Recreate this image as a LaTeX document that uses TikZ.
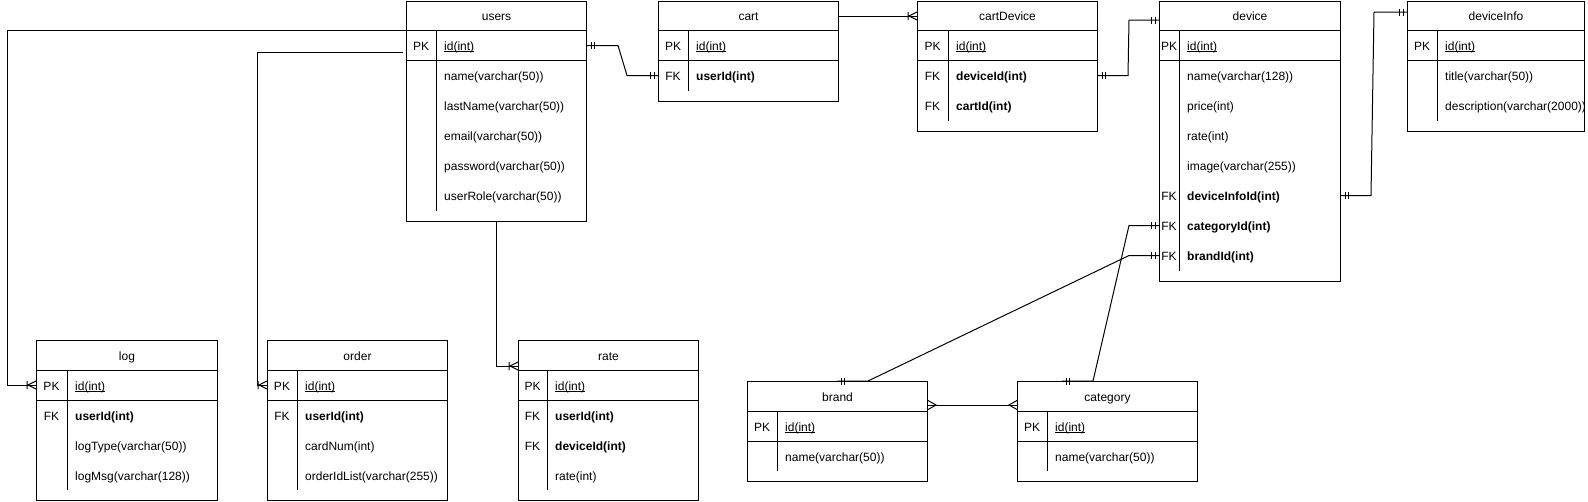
\documentclass[tikz,border=0pt]{standalone}
\usepackage{fontspec}
\setmainfont{Liberation Sans}
\usetikzlibrary{calc,decorations.markings}
\newcommand\myul[1]{\setbox0\hbox{#1}\rlap{\rule[-1.6pt]{\wd0}{0.9pt}}\box0}
\tikzset{
  x=1pt, y=-1pt,
  tbl/.style={draw, line width=1pt, rectangle, inner sep=0pt, fill=white},
  tline/.style={line width=1pt},
  ttl/.style={inner sep=0pt, anchor=base, font=\fontsize{12}{14}\selectfont},
  keyt/.style={inner sep=0pt, anchor=base, font=\fontsize{12}{14}\selectfont},
  fldt/.style={inner sep=0pt, anchor=base west, font=\fontsize{12}{14}\selectfont},
  conn/.style={draw, line width=1pt},
  mk/.style={line width=1pt},
  one end/.style={postaction={decorate,decoration={markings,mark=at position 1 with {\draw[mk] (-4,-3.5)--(-4,3.5) (-7.5,-3.5)--(-7.5,3.5);}}}},
  one start/.style={postaction={decorate,decoration={markings,mark=at position 0 with {\draw[mk] (4,-3.5)--(4,3.5) (7.5,-3.5)--(7.5,3.5);}}}},
  crow end/.style={postaction={decorate,decoration={markings,mark=at position 1 with {\draw[mk] (0,4)--(-8,0)--(0,-4) (-9,-4)--(-9,4);}}}},
  many end/.style={postaction={decorate,decoration={markings,mark=at position 1 with {\draw[mk] (0,4.5)--(-8,0)--(0,-4.5);}}}},
  many start/.style={postaction={decorate,decoration={markings,mark=at position 0 with {\draw[mk] (0,4.5)--(8,0)--(0,-4.5);}}}},
}
% id, x, y, width, nrows, keyw, title
\newcommand\ertable[7]{%
  \pgfmathsetmacro\tH{40+30*#5}%
  \pgfmathsetmacro\tD{30+30*#5}%
  \node[tbl, minimum width=#4pt, minimum height=\tH pt, anchor=north west] (#1) at (#2,#3) {};
  \node[ttl] (#1-t) at ($(#1.north)+(0,20)$) {#7};
  \draw[tline] ($(#1.north west)+(0,30)$) -- ($(#1.north east)+(0,30)$);
  \draw[tline] ($(#1.north west)+(0,60)$) -- ($(#1.north east)+(0,60)$);
  \draw[tline] ($(#1.north west)+(#6,30)$) -- ($(#1.north west)+(#6,\tD)$);
  \expandafter\xdef\csname tk#1\endcsname{#6}%
}
% id, n, key, text
\newcommand\errow[4]{%
  \pgfmathsetmacro\rY{15+30*#2}%
  \pgfmathsetmacro\rB{20+30*#2}%
  \edef\kw{\csname tk#1\endcsname}%
  \coordinate (#1-y#2) at ($(#1.north west)+(0,\rY)$);
  \node[keyt] (#1-k#2) at ($(#1.north west)+(\kw/2,\rB)$) {#3};
  \node[fldt] (#1-r#2) at ($(#1.north west)+(\kw+8,\rB)$) {#4};
}
\begin{document}
\begin{tikzpicture}
\fill[white] (0,0) rectangle (1588,501);
\useasboundingbox (0,0) rectangle (1588,501);

\ertable{users}{406}{0.5}{180}{6}{30}{users}
\errow{users}{1}{PK}{\myul{id(int)}}
\errow{users}{2}{}{name(varchar(50))}
\errow{users}{3}{}{lastName(varchar(50))}
\errow{users}{4}{}{email(varchar(50))}
\errow{users}{5}{}{password(varchar(50))}
\errow{users}{6}{}{userRole(varchar(50))}

\ertable{cart}{658}{0.5}{180}{2}{30}{cart}
\errow{cart}{1}{PK}{\myul{id(int)}}
\errow{cart}{2}{FK}{\textbf{userId(int)}}

\ertable{cartDevice}{917}{0.5}{180}{3}{31}{cartDevice}
\errow{cartDevice}{1}{PK}{\myul{id(int)}}
\errow{cartDevice}{2}{FK}{\textbf{deviceId(int)}}
\errow{cartDevice}{3}{FK}{\textbf{cartId(int)}}

\ertable{device}{1159}{0.5}{181}{8}{20}{device}
\errow{device}{1}{PK}{\myul{id(int)}}
\errow{device}{2}{}{name(varchar(128))}
\errow{device}{3}{}{price(int)}
\errow{device}{4}{}{rate(int)}
\errow{device}{5}{}{image(varchar(255))}
\errow{device}{6}{FK}{\textbf{deviceInfoId(int)}}
\errow{device}{7}{FK}{\textbf{categoryId(int)}}
\errow{device}{8}{FK}{\textbf{brandId(int)}}

\ertable{deviceInfo}{1407}{0.5}{177}{3}{30}{deviceInfo}
\errow{deviceInfo}{1}{PK}{\myul{id(int)}}
\errow{deviceInfo}{2}{}{title(varchar(50))}
\errow{deviceInfo}{3}{}{description(varchar(2000))}

\ertable{log}{36}{340}{181}{4}{31}{log}
\errow{log}{1}{PK}{\myul{id(int)}}
\errow{log}{2}{FK}{\textbf{userId(int)}}
\errow{log}{3}{}{logType(varchar(50))}
\errow{log}{4}{}{logMsg(varchar(128))}

\ertable{order}{267}{340}{180}{4}{30}{order}
\errow{order}{1}{PK}{\myul{id(int)}}
\errow{order}{2}{FK}{\textbf{userId(int)}}
\errow{order}{3}{}{cardNum(int)}
\errow{order}{4}{}{orderIdList(varchar(255))}

\ertable{rate}{518}{340}{180}{4}{29}{rate}
\errow{rate}{1}{PK}{\myul{id(int)}}
\errow{rate}{2}{FK}{\textbf{userId(int)}}
\errow{rate}{3}{FK}{\textbf{deviceId(int)}}
\errow{rate}{4}{}{rate(int)}

\ertable{brand}{747}{381}{180}{2}{30}{brand}
\errow{brand}{1}{PK}{\myul{id(int)}}
\errow{brand}{2}{}{name(varchar(50))}

\ertable{category}{1017}{381}{180}{2}{30}{category}
\errow{category}{1}{PK}{\myul{id(int)}}
\errow{category}{2}{}{name(varchar(50))}

% connectors
\draw[conn,one start,one end] (users.east |- users-y1) -- ++(31,0) -- ($(cart.west |- cart-y2)+(-31,0)$) -- (cart.west |- cart-y2);
\draw[conn,crow end] ($(cart.north east)+(0,15.5)$) -- ($(cartDevice.north west)+(0,15.5)$);
\draw[conn,one start,one end] (cartDevice.east |- cartDevice-y2) -- ++(30,0) -- ($(device.north west)+(-30,19.5)$) -- ($(device.north west)+(0,19.5)$);
\draw[conn,one start,one end] (device.east |- device-y6) -- ++(30,0) -- ($(deviceInfo.north west)+(-33,11.5)$) -- ($(deviceInfo.north west)+(0,11.5)$);
\draw[conn,one start,one end] (device.west |- device-y7) -- ++(-30,0) -- ($(category.north west)+(76,0)$) -- ($(category.north west)+(45,0)$);
\draw[conn,one start,one end] (device.west |- device-y8) -- ++(-30,0) -- ($(brand.north west)+(121,0)$) -- ($(brand.north west)+(90,0)$);
\draw[conn,many start,many end] ($(brand.north east)+(0,24)$) -- ($(category.north west)+(0,24)$);
\draw[conn,crow end] ($(users.north west)+(0,29.5)$) -- ++(-399,0) |- (log.west |- log-y1);
\draw[conn,crow end] ($(users.north west)+(-3,51.5)$) -- ++(-146,0) |- (order.west |- order-y1);
\draw[conn,crow end] ($(users.south west)+(90,0)$) |- ($(rate.north west)+(0,26)$);
\end{tikzpicture}
\end{document}
